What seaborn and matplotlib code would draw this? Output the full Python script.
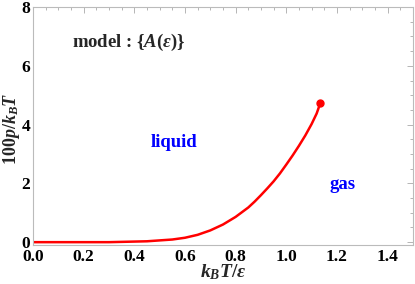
import matplotlib
matplotlib.use("Agg")
import matplotlib.pyplot as plt
import seaborn as sns
import pandas as pd
from matplotlib.ticker import MultipleLocator

# data
temperature = [0.0, 0.1, 0.2, 0.3, 0.35, 0.4, 0.45, 0.5, 0.55, 0.6, 0.65, 0.7,
               0.75, 0.8, 0.85, 0.875, 0.9, 0.925, 0.95, 0.975, 1.0, 1.025,
               1.05, 1.075, 1.1, 1.12, 1.135]
pressure = [0.0, 0.0, 0.0, 0.0, 0.01, 0.02, 0.03, 0.06, 0.09, 0.15, 0.25, 0.40,
            0.60, 0.86, 1.18, 1.38, 1.60, 1.83, 2.07, 2.34, 2.64, 2.95,
            3.28, 3.63, 4.02, 4.38, 4.75]
xticks = [0.0, 0.2, 0.4, 0.6, 0.8, 1.0, 1.2, 1.4]
xticklabels = ["0.0", "0.2", "0.4", "0.6", "0.8", "1.0", "1.2", "1.4"]
yticks = [0, 2, 4, 6, 8]
yticklabels = ["0", "2", "4", "6", "8"]
region_labels = ["liquid", "gas"]
region_x = [0.557, 1.222]
region_y = [3.40, 1.97]

sns.set_style("white")
plt.rcParams["font.family"] = ["Liberation Serif", "DejaVu Serif"]
plt.rcParams["mathtext.fontset"] = "custom"
plt.rcParams["mathtext.rm"] = "Liberation Serif:bold"
plt.rcParams["mathtext.it"] = "Liberation Serif:italic:bold"
plt.rcParams["mathtext.bf"] = "Liberation Serif:bold"

fig = plt.figure(figsize=(4.15, 2.84), dpi=100)
ax = fig.add_axes([0.0795, 0.138, 0.9155, 0.837])

df = pd.DataFrame({"T": temperature, "p": pressure})
sns.lineplot(data=df, x="T", y="p", ax=ax, color="#ff0000", linewidth=1.8)
ax.plot(temperature[-1:], pressure[-1:], "o", color="#ff0000", markersize=5)

ax.set_xlim(0, 1.5)
ax.set_ylim(-0.09, 8)
ax.set_xticks(xticks)
ax.set_xticklabels(xticklabels)
ax.set_yticks(yticks)
ax.set_yticklabels(yticklabels)
ax.xaxis.set_minor_locator(MultipleLocator(0.05))
ax.yaxis.set_minor_locator(MultipleLocator(0.5))

for lab in ax.get_xticklabels() + ax.get_yticklabels():
    lab.set_fontweight("bold")
    lab.set_fontsize(12.5)

ax.tick_params(which="both", direction="in", colors="#aaaaaa", labelcolor="black",
               top=True, right=True, width=0.6)
ax.tick_params(which="major", length=4)
ax.tick_params(axis="x", which="major", pad=3)
ax.tick_params(axis="y", which="major", pad=2)
ax.tick_params(which="minor", length=2)

for s in ax.spines.values():
    s.set_color("#bbbbbb")
    s.set_linewidth(0.8)

ax.set_xlabel(r"$k_BT/\epsilon$", fontsize=14)
ax.xaxis.set_label_coords(0.5, -0.072)
ax.set_ylabel(r"$100p/k_BT$", fontsize=13)
ax.yaxis.set_label_coords(-0.030, 0.49)

ax.text(0.38, 6.80, r"model : {$A(\epsilon)$}", fontsize=13.5, fontweight="bold",
        ha="center", va="center")
for lab, x, y in zip(region_labels, region_x, region_y):
    ax.text(x, y, lab, color="#0000ff", fontsize=13.5, fontweight="bold",
            ha="center", va="center")

fig.savefig("out.png", dpi=100)
